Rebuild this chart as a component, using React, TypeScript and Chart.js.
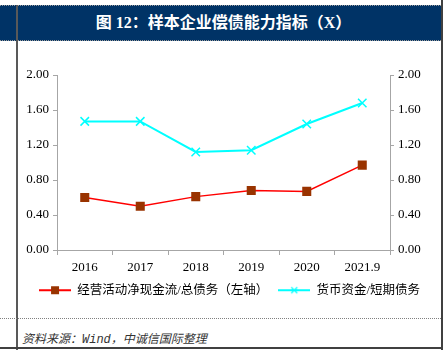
import React, { useEffect, useRef } from "react";
import { Chart, registerables } from "chart.js";

Chart.register(...registerables);

const categories = ["2016", "2017", "2018", "2019", "2020", "2021.9"];
const cashFlowToDebt = [0.6, 0.5, 0.61, 0.68, 0.67, 0.97];
const cashToShortDebt = [1.47, 1.47, 1.12, 1.14, 1.44, 1.68];
const seriesNames = ["经营活动净现金流/总债务（左轴）", "货币资金/短期债务"];
const axisMin = 0;
const axisMax = 2;
const axisStep = 0.4;

const FONT = "'Liberation Serif', 'Times New Roman', 'Noto Sans CJK SC', serif";

function legendImage(lineColor: string, kind: "rect" | "cross"): HTMLCanvasElement {
  const c = document.createElement("canvas");
  c.width = 32;
  c.height = 12;
  const ctx = c.getContext("2d")!;
  ctx.strokeStyle = lineColor;
  ctx.lineWidth = 2;
  ctx.beginPath();
  ctx.moveTo(0, 6);
  ctx.lineTo(32, 6);
  ctx.stroke();
  if (kind === "rect") {
    ctx.fillStyle = "#993300";
    ctx.fillRect(12, 2, 8, 8);
  } else {
    ctx.lineWidth = 1.2;
    ctx.beginPath();
    ctx.moveTo(13, 3);
    ctx.lineTo(19, 9);
    ctx.moveTo(19, 3);
    ctx.lineTo(13, 9);
    ctx.stroke();
  }
  return c;
}

export default function App() {
  const ref = useRef<HTMLCanvasElement>(null);

  useEffect(() => {
    const canvas = ref.current!;
    const imgs = [legendImage("#ff0000", "rect"), legendImage("#00ffff", "cross")];
    const axisColor = "#a6a6a6";
    const tickFont = { family: FONT, size: 13 };
    const yCommon = {
      min: axisMin,
      max: axisMax,
      ticks: {
        stepSize: axisStep,
        color: "#000",
        font: tickFont,
        padding: 4,
        callback: (v: any) => Number(v).toFixed(2),
      },
      grid: { display: true, drawOnChartArea: false, drawTicks: true, tickLength: 4, color: axisColor },
      border: { display: true, color: axisColor, width: 1 },
    };
    const chart = new Chart(canvas, {
      type: "line",
      data: {
        labels: categories,
        datasets: [
          {
            label: seriesNames[0],
            data: cashFlowToDebt,
            yAxisID: "y",
            borderColor: "#ff0000",
            borderWidth: 1.5,
            pointStyle: "rect",
            pointRadius: 6.4,
            pointBackgroundColor: "#993300",
            pointBorderColor: "#993300",
            pointBorderWidth: 0,
            tension: 0,
          },
          {
            label: seriesNames[1],
            data: cashToShortDebt,
            yAxisID: "y1",
            borderColor: "#00ffff",
            borderWidth: 2,
            pointStyle: "crossRot",
            pointRadius: 6,
            pointBorderColor: "#00ffff",
            pointBackgroundColor: "#00ffff",
            pointBorderWidth: 1.5,
            tension: 0,
          },
        ],
      },
      options: {
        responsive: false,
        animation: false,
        layout: { padding: { top: 33, bottom: 7.5, left: 0, right: 0 } },
        plugins: {
          tooltip: { enabled: false },
          legend: {
            position: "bottom",
            labels: {
              usePointStyle: true,
              pointStyleWidth: 32,
              padding: 10,
              color: "#000",
              font: { family: FONT, size: 12.5 },
              generateLabels: (ch: any) => {
                const items = Chart.defaults.plugins.legend.labels.generateLabels(ch);
                return items.map((it: any, i: number) => ({ ...it, pointStyle: imgs[i] }));
              },
            },
          },
        },
        scales: {
          x: {
            offset: true,
            ticks: { color: "#000", font: tickFont, padding: 5, maxRotation: 0 },
            grid: { display: true, drawOnChartArea: false, drawTicks: true, tickLength: 5, color: axisColor, offset: true },
            border: { display: true, color: axisColor },
            afterFit: (s: any) => {
              s.height = 24;
            },
          },
          y: {
            ...yCommon,
            position: "left",
            afterFit: (s: any) => {
              s.width = 38;
            },
          },
          y1: {
            ...yCommon,
            position: "right",
            afterFit: (s: any) => {
              s.width = 50;
            },
          },
        },
      },
    } as any);
    return () => chart.destroy();
  }, []);

  return (
    <div style={{ position: "fixed", left: 0, top: 0, width: 447, height: 350, background: "#fff", overflow: "hidden" }}>
      <div
        style={{
          position: "absolute",
          left: 0,
          top: 5,
          width: 441,
          height: 34,
          background: "#003366",
          borderTop: "1px dotted #9a9a9a",
          borderBottom: "1px dotted #9a9a9a",
        }}
      />
      <div
        style={{
          position: "absolute",
          left: 0,
          top: 5,
          width: 447,
          height: 36,
          lineHeight: "36px",
          textAlign: "center",
          color: "#fff",
          fontWeight: "bold",
          fontSize: 16,
          fontFamily: FONT,
        }}
      >
        图 12：样本企业偿债能力指标（X）
      </div>
      <div style={{ position: "absolute", left: 16, top: 5, width: 2, height: 345, background: "#595959" }} />
      <div style={{ position: "absolute", left: 441, top: 0, width: 2, height: 350, background: "#404040" }} />
      <div style={{ position: "absolute", left: 0, top: 318, width: 441, height: 0, borderTop: "1px dotted #808080" }} />
      <div style={{ position: "absolute", left: 0, top: 347, width: 443, height: 2, background: "#404040" }} />
      <div
        style={{
          position: "absolute",
          left: 22,
          top: 329,
          fontSize: 12,
          fontStyle: "italic",
          color: "#333",
          fontFamily: "'Liberation Mono', 'Noto Sans CJK SC', monospace",
          whiteSpace: "nowrap",
        }}
      >
        资料来源：Wind，中诚信国际整理
      </div>
      <canvas ref={ref} width={421} height={272} style={{ position: "absolute", left: 19, top: 42, width: 421, height: 272 }} />
    </div>
  );
}
